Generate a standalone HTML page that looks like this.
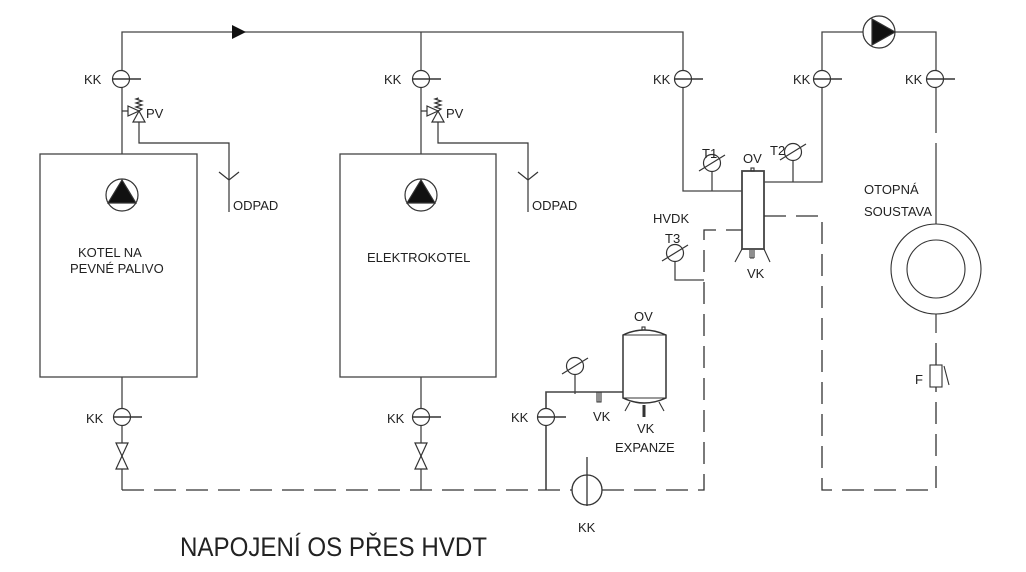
<!DOCTYPE html>
<html><head><meta charset="utf-8"><style>
html,body{margin:0;padding:0;background:#fff;}
svg{display:block;}
text{font-family:"Liberation Sans",sans-serif;fill:#222;font-size:13px;}
</style></head><body>
<svg width="1026" height="572" viewBox="0 0 1026 572" xmlns="http://www.w3.org/2000/svg">
<defs>
<g id="kk"><circle cx="0" cy="0" r="8.5" fill="#fff" stroke="#333" stroke-width="1.2"/><line x1="-8.5" y1="0" x2="20" y2="0" stroke="#333" stroke-width="1.5"/></g>
<g id="pv" fill="#fff" stroke="#333" stroke-width="1.2">
<line x1="0" y1="31" x2="6" y2="31"/><polygon points="6,26 17,31 6,36"/><polygon points="17,31 11,42 23,42"/>
<polyline points="17,18 14,19 20,21 14,23 20,25 14,27 20,29 17,31" fill="none"/>
<polyline points="17,42 17,63 107,63 107,100" fill="none"/>
<polyline points="97,92 107,100 117,92" fill="none"/>
<line x1="107" y1="100" x2="107" y2="132"/>
</g>
<g id="gauge" stroke="#333" stroke-width="1.2" fill="#fff"><circle cx="0" cy="0" r="8.5"/><line x1="-13" y1="8" x2="13" y2="-8"/></g>
<g id="bow" fill="#fff" stroke="#333" stroke-width="1.2"><polygon points="-6,-13 6,-13 -6,13 6,13"/></g>
</defs>
<g stroke="#444" stroke-width="1.3" fill="none">
<polyline points="122,154 122,32 683,32 683,191 742,191"/>
<line x1="421" y1="32" x2="421" y2="154"/>
<rect x="40" y="154" width="157" height="223"/>
<rect x="340" y="154" width="156" height="223"/>
<line x1="122" y1="377" x2="122" y2="490"/>
<line x1="421" y1="377" x2="421" y2="490"/>
<rect x="742" y="171" width="22" height="78" stroke-width="1.8"/>
<polyline points="764,182 822,182 822,32 936,32 936,133"/>
<line x1="712" y1="172" x2="712" y2="191"/>
<line x1="793" y1="161" x2="793" y2="182"/>
<polyline points="675,262 675,280 704,280"/>
<polyline points="546,490 546,392 623,392" stroke-width="1.6"/>
<line x1="575" y1="375" x2="575" y2="394"/>
<line x1="936" y1="224" x2="936" y2="143"/>
<line x1="936" y1="314" x2="936" y2="333"/>
</g>
<g stroke="#333" stroke-width="1.3" fill="none" stroke-dasharray="22,10">
<polyline points="122,490 704,490 704,230 742,230"/>
<polyline points="764,216 822,216 822,490 936,490 936,387"/>
<polyline points="936,365 936,343"/>
</g>
<polygon points="232,25 246,32 232,39" fill="#111"/>
<use href="#kk" x="121" y="79"/><use href="#kk" x="421" y="79"/><use href="#kk" x="683" y="79"/>
<use href="#kk" x="822" y="79"/><use href="#kk" x="935" y="79"/>
<use href="#kk" x="122" y="417"/><use href="#kk" x="421" y="417"/><use href="#kk" x="546" y="417"/>
<use href="#pv" x="122" y="80"/><use href="#pv" x="421" y="80"/>
<use href="#bow" x="122" y="456"/><use href="#bow" x="421" y="456"/>
<g stroke="#333" stroke-width="1.2"><circle cx="122" cy="195" r="16" fill="#fff"/><polygon points="122,180 108,203 136,203" fill="#111"/>
<circle cx="421" cy="195" r="16" fill="#fff"/><polygon points="421,180 407,203 435,203" fill="#111"/>
<circle cx="879" cy="32" r="16" fill="#fff"/><polygon points="872,19 895,32 872,45" fill="#111"/></g>
<use href="#gauge" x="712" y="163"/><use href="#gauge" x="793" y="152"/><use href="#gauge" x="675" y="253"/><use href="#gauge" x="575" y="366"/>
<g stroke="#333" stroke-width="1.1" fill="none">
<line x1="742" y1="249" x2="735" y2="262"/><line x1="764" y1="249" x2="770" y2="262"/>
<path d="M750,250 v8 M752,250 v8 M754,250 v8 M750,258 h4"/>
<rect x="751" y="168" width="3" height="3"/>
<path d="M623,335 Q644,325 666,335 L666,398 Q644,408 623,398 Z" stroke-width="1.5" fill="#fff"/>
<line x1="623" y1="335" x2="666" y2="335"/><line x1="623" y1="398" x2="666" y2="398"/>
<rect x="642" y="327" width="3" height="3"/>
<line x1="644" y1="405" x2="644" y2="417" stroke-width="3"/>
<line x1="630" y1="402" x2="625" y2="411"/><line x1="659" y1="402" x2="664" y2="411"/>
<path d="M597,392 v10 h4 v-10 M599,392 v10"/>
<circle cx="587" cy="490" r="15" fill="#fff" stroke-width="1.3"/>
<line x1="587" y1="457" x2="587" y2="506" stroke-width="1.3"/>
<circle cx="936" cy="269" r="45" fill="#fff"/><circle cx="936" cy="269" r="29"/>
<rect x="930" y="365" width="12" height="22" fill="#fff"/><line x1="944" y1="366" x2="949" y2="385"/>
</g>
<text x="84" y="84">KK</text><text x="384" y="84">KK</text><text x="653" y="84">KK</text>
<text x="793" y="84">KK</text><text x="905" y="84">KK</text>
<text x="86" y="423">KK</text><text x="387" y="423">KK</text><text x="511" y="422">KK</text>
<text x="146" y="118">PV</text><text x="446" y="118">PV</text>
<text x="233" y="210">ODPAD</text><text x="532" y="210">ODPAD</text>
<text x="78" y="257">KOTEL NA</text><text x="70" y="273">PEVNÉ PALIVO</text>
<text x="367" y="262">ELEKTROKOTEL</text>
<text x="702" y="158">T1</text><text x="770" y="155">T2</text><text x="743" y="163">OV</text>
<text x="653" y="223">HVDK</text><text x="665" y="243">T3</text>
<text x="747" y="278">VK</text>
<text x="864" y="194">OTOPNÁ</text><text x="864" y="216">SOUSTAVA</text>
<text x="915" y="384">F</text>
<text x="634" y="321">OV</text>
<text x="593" y="421">VK</text>
<text x="637" y="433">VK</text><text x="615" y="452">EXPANZE</text>
<text x="578" y="532">KK</text>
<text x="180" y="556" style="font-size:27px;" textLength="307" lengthAdjust="spacingAndGlyphs">NAPOJENÍ OS PŘES HVDT</text>
</svg>
</body></html>
